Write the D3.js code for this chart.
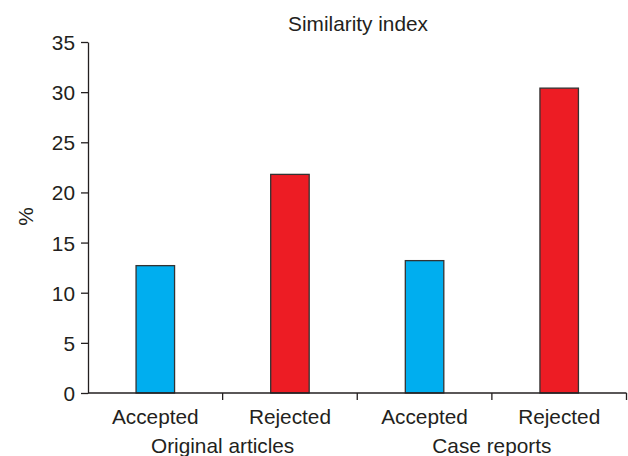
<!DOCTYPE html>
<html><head><meta charset="utf-8">
<script src="https://cdn.jsdelivr.net/npm/d3@7"></script>
<style>body{margin:0;background:#fff}svg{display:block}text{font-family:"Liberation Sans",Arial,sans-serif;fill:#231f20}</style>
</head><body><svg id="c" width="628" height="456"></svg>
<script>
const categories = ["Accepted","Rejected","Accepted","Rejected"];
const groups = ["Original articles","Case reports"];
const values = [12.7, 21.8, 13.2, 30.4];
const colors = ["#00aeef","#ed1c24","#00aeef","#ed1c24"];
const yTicks = [0,5,10,15,20,25,30,35];
const title = "Similarity index";
const yLabel = "%";

const svg = d3.select("#c");
const m = {l:88, r:1.5, t:42, b:63};
const W = 628, H = 456;
const x = d3.scaleBand().domain(d3.range(categories.length)).range([m.l, W - m.r]).paddingInner(0).paddingOuter(0);
const y = d3.scaleLinear().domain([0,35]).range([H - m.b, m.t]);
const fs = 20.8;
const ink = "#231f20";

// bars
const bw = x.bandwidth()*0.286;
svg.append("g").selectAll("rect").data(values).join("rect")
  .attr("x",(d,i)=>x(i)+x.bandwidth()/2-bw/2)
  .attr("y",d=>y(d))
  .attr("width",bw)
  .attr("height",d=>y(0)-y(d))
  .attr("fill",(d,i)=>colors[i])
  .attr("stroke","#333").attr("stroke-width",1.3);

// y axis
const ya = svg.append("g").attr("transform",`translate(${m.l},0)`)
  .call(d3.axisLeft(y).tickValues(yTicks).tickSize(7).tickPadding(6).tickSizeOuter(0));
ya.select(".domain").attr("stroke",ink).attr("stroke-width",1.3);
ya.selectAll(".tick line").attr("stroke",ink).attr("stroke-width",1.3);
ya.selectAll(".tick text").attr("font-size",fs).attr("font-family","Liberation Sans, Arial, sans-serif").attr("fill",ink).attr("dy","0.36em");

// x axis
const xa = svg.append("g").attr("transform",`translate(0,${y(0)})`);
xa.append("line").attr("x1",m.l).attr("x2",W-m.r).attr("y1",0).attr("y2",0).attr("stroke",ink).attr("stroke-width",1.3);
const bounds = d3.range(1,categories.length+1).map(i=> i<categories.length ? x(i) : W-m.r);
xa.selectAll("line.t").data(bounds).join("line").attr("class","t")
  .attr("x1",d=>d).attr("x2",d=>d).attr("y1",0).attr("y2",7).attr("stroke",ink).attr("stroke-width",1.3);
xa.selectAll("text.c").data(categories).join("text").attr("class","c")
  .attr("x",(d,i)=>x(i)+x.bandwidth()/2).attr("y",31)
  .attr("text-anchor","middle").attr("font-size",fs).text(d=>d);
xa.selectAll("text.g").data(groups).join("text").attr("class","g")
  .attr("x",(d,i)=>x(i*2+1))
  .attr("y",59.5).attr("text-anchor","middle").attr("font-size",fs).text(d=>d);

// title
svg.append("text").attr("x",358).attr("y",31).attr("text-anchor","middle").attr("font-size",fs).text(title);
// y label
svg.append("text").attr("transform","translate(32.5,216.5) rotate(-90)").attr("text-anchor","middle").attr("font-size",fs).text(yLabel);
</script></body></html>
